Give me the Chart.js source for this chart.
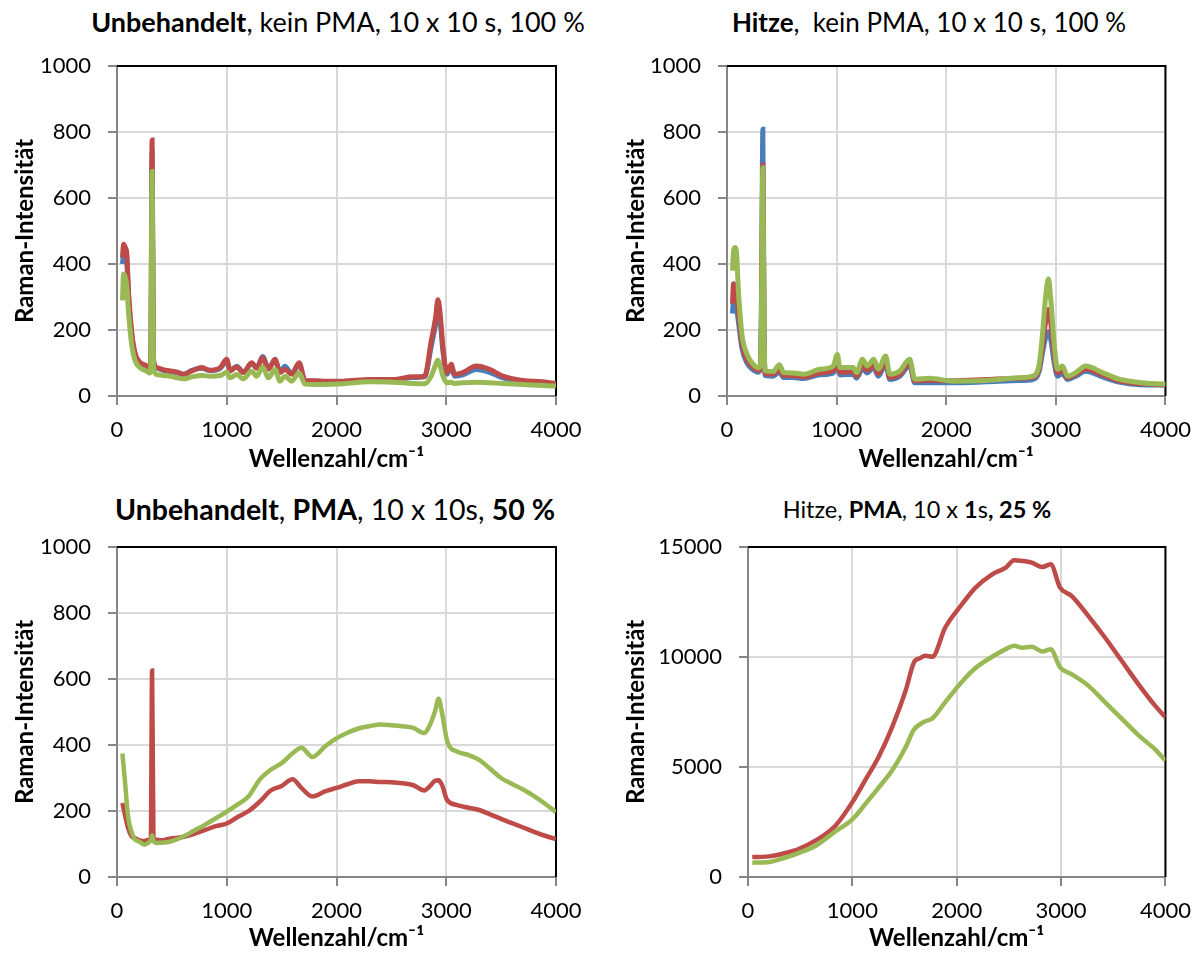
<!DOCTYPE html>
<html>
<head>
<meta charset="utf-8">
<script src="https://cdn.jsdelivr.net/npm/chart.js@4"></script>
<style>
  body { margin: 0; background: #fff; width: 1203px; height: 953px; overflow: hidden; position: relative; font-family: Lato, sans-serif; }
  canvas { position: absolute; }
  .ttl { position: absolute; line-height: 30px; white-space: pre; transform: translateX(-50%); color: #000; }
</style>
</head>
<body>
<div class="ttl" style="left:338px; top:7px; font-size:27px"><b>Unbehandelt</b>, kein PMA, 10 x 10 s, 100 %</div>
<div class="ttl" style="left:929px; top:7px; font-size:26px"><b>Hitze</b>,  kein PMA, 10 x 10 s, 100 %</div>
<div class="ttl" style="left:335px; top:494px; font-size:28.5px"><b>Unbehandelt</b>, <b>PMA</b>, 10 x 10s, <b>50 %</b></div>
<div class="ttl" style="left:917px; top:494px; font-size:23.5px">Hitze, <b>PMA</b>, 10 x <b>1</b>s<b>, 25 %</b></div>

<canvas id="c1" width="600" height="440" style="left:0; top:40px"></canvas>
<canvas id="c2" width="603" height="440" style="left:600px; top:40px"></canvas>
<canvas id="c3" width="600" height="433" style="left:0; top:520px"></canvas>
<canvas id="c4" width="603" height="433" style="left:600px; top:520px"></canvas>

<script>
// tick values
const xTicks = [0, 1000, 2000, 3000, 4000];
const yTicksSmall = [0, 200, 400, 600, 800, 1000];
const yTicksLarge = [0, 5000, 10000, 15000];

// Unbehandelt, kein PMA
const wn1 = [50, 60, 75, 90, 106, 136, 167, 212, 273, 297, 308, 320, 332, 364, 420, 485, 550, 606, 682, 773, 848, 940, 1000, 1030, 1091, 1151, 1227, 1273, 1327, 1379, 1440, 1485, 1530, 1591, 1660, 1712, 1800, 1879, 2060, 2303, 2515, 2697, 2803, 2863, 2903, 2924, 2945, 2970, 3006, 3045, 3076, 3151, 3272, 3394, 3515, 3697, 3879, 4000];
const blue1 = [400, 430, 420, 400, 300, 180, 122, 98, 88, 76, 105, 740, 105, 84, 78, 74, 70, 65, 78, 84, 77, 84, 105, 78, 90, 72, 98, 86, 120, 84, 108, 74, 90, 68, 96, 46, 45, 44, 44, 48, 48, 56, 58, 150, 215, 250, 225, 135, 66, 88, 60, 64, 80, 72, 55, 45, 40, 36];
const red1 = [420, 460, 450, 430, 309, 187, 127, 101, 91, 78, 110, 776, 110, 86, 80, 76, 72, 66, 76, 86, 78, 86, 111, 76, 88, 71, 101, 84, 116, 81, 111, 71, 81, 66, 101, 47, 46, 45, 45, 50, 50, 58, 60, 166, 238, 292, 248, 147, 71, 96, 66, 71, 91, 81, 60, 47, 43, 37];
const green1 = [290, 370, 360, 330, 250, 150, 105, 85, 75, 70, 90, 680, 90, 65, 62, 60, 55, 52, 58, 62, 60, 62, 72, 55, 65, 52, 75, 60, 88, 55, 80, 45, 60, 45, 70, 36, 35, 35, 37, 43, 42, 38, 37, 60, 95, 108, 90, 60, 40, 42, 38, 40, 42, 40, 38, 35, 32, 30];

// Hitze, kein PMA
const wn2 = [50, 60, 75, 85, 106, 136, 182, 227, 288, 305, 316, 327, 338, 348, 420, 479, 515, 600, 697, 848, 970, 1006, 1030, 1151, 1182, 1236, 1279, 1339, 1379, 1448, 1485, 1576, 1667, 1712, 1848, 2060, 2363, 2666, 2788, 2848, 2878, 2909, 2933, 2954, 2985, 3015, 3061, 3106, 3182, 3272, 3424, 3576, 3758, 4000];
const blue2 = [250, 290, 285, 270, 220, 145, 100, 82, 72, 85, 350, 808, 210, 62, 60, 72, 56, 56, 53, 64, 70, 90, 64, 66, 54, 82, 70, 86, 60, 95, 50, 60, 92, 40, 40, 40, 43, 47, 50, 75, 130, 180, 195, 170, 100, 60, 68, 50, 60, 75, 58, 42, 34, 33];
const red2 = [280, 340, 330, 310, 250, 160, 110, 90, 78, 85, 280, 700, 190, 68, 66, 80, 62, 62, 58, 70, 78, 100, 72, 74, 60, 92, 78, 95, 68, 105, 56, 66, 100, 46, 48, 46, 50, 54, 56, 85, 150, 230, 262, 220, 125, 70, 80, 55, 66, 82, 64, 46, 38, 34];
const green2 = [380, 440, 450, 440, 309, 187, 127, 101, 85, 95, 300, 692, 200, 76, 74, 95, 71, 70, 66, 81, 91, 126, 86, 86, 71, 111, 91, 111, 81, 121, 66, 76, 111, 51, 54, 45, 47, 55, 60, 96, 187, 309, 355, 290, 157, 81, 91, 60, 71, 91, 71, 51, 41, 36];

// Unbehandelt, PMA
const wn3 = [49, 70, 100, 130, 160, 200, 250, 290, 308, 320, 332, 360, 400, 480, 600, 700, 800, 900, 1000, 1100, 1200, 1300, 1400, 1500, 1600, 1680, 1780, 1900, 2000, 2100, 2200, 2300, 2400, 2500, 2600, 2700, 2800, 2850, 2900, 2930, 2960, 3010, 3100, 3200, 3300, 3400, 3500, 3600, 3700, 3800, 3900, 4000];
const red3 = [224, 192, 150, 125, 118, 112, 109, 113, 118, 626, 118, 113, 111, 116, 121, 130, 142, 154, 162, 182, 200, 228, 262, 276, 296, 270, 244, 260, 270, 281, 290, 290, 288, 287, 284, 278, 262, 275, 292, 293, 280, 232, 218, 210, 203, 190, 176, 163, 150, 137, 125, 115];
const green3 = [374, 300, 185, 140, 115, 108, 98, 105, 112, 126, 110, 103, 104, 107, 122, 140, 158, 178, 198, 220, 245, 295, 325, 345, 375, 392, 364, 397, 420, 437, 450, 457, 462, 460, 457, 452, 436, 460, 505, 540, 500, 410, 380, 370, 355, 328, 300, 282, 265, 245, 222, 197];

// Hitze, PMA
const wn4 = [41, 200, 330, 490, 650, 840, 1000, 1130, 1250, 1380, 1510, 1590, 1650, 1700, 1765, 1890, 2050, 2180, 2340, 2470, 2550, 2630, 2720, 2820, 2900, 2990, 3100, 3260, 3420, 3580, 3740, 3900, 4000];
const red4 = [907, 937, 1058, 1285, 1663, 2344, 3402, 4460, 5443, 6804, 8467, 9752, 9950, 10055, 10010, 11340, 12398, 13154, 13759, 14062, 14394, 14364, 14288, 14092, 14213, 13154, 12777, 11869, 10886, 9828, 8770, 7787, 7258];
const green4 = [650, 680, 840, 1100, 1420, 2080, 2620, 3350, 4050, 4838, 5897, 6700, 6950, 7080, 7200, 7950, 8880, 9500, 10010, 10357, 10508, 10420, 10463, 10251, 10357, 9526, 9223, 8700, 7950, 7200, 6450, 5800, 5292];

const BLUE = '#4a7ebb', RED = '#be4b48', GREEN = '#98b954';

Chart.defaults.font.family = 'Lato';
Chart.defaults.font.size = 22;
Chart.defaults.color = '#000';

const frame = {
  id: 'frame',
  beforeDatasetsDraw(chart) {
    const { ctx, chartArea: a } = chart;
    ctx.save();
    ctx.strokeStyle = '#000';
    ctx.lineWidth = 2;
    ctx.beginPath();
    ctx.moveTo(a.left, a.top);
    ctx.lineTo(a.right, a.top);
    ctx.lineTo(a.right, a.bottom);
    ctx.stroke();
    ctx.restore();
  }
};

function pts(xs, ys) {
  return xs.map((x, i) => ({ x: x, y: ys[i] }));
}

function line(xs, ys, color, order, w) {
  return { data: pts(xs, ys), borderColor: color, backgroundColor: color, borderWidth: w, pointRadius: 0, cubicInterpolationMode: 'monotone', order: order };
}

function makeChart(id, datasets, yTicks, opt) {
  return new Chart(document.getElementById(id), {
    type: 'line',
    data: { datasets: datasets },
    plugins: [frame],
    options: {
      responsive: false,
      animation: false,
      devicePixelRatio: 1,
      layout: { padding: { top: opt.top, right: opt.right, bottom: opt.bottom, left: 0 } },
      plugins: { legend: { display: false }, tooltip: { enabled: false } },
      scales: {
        x: {
          type: 'linear', min: 0, max: 4000,
          afterBuildTicks: s => { s.ticks = xTicks.map(v => ({ value: v })); },
          afterFit: s => { s.height = opt.xh; },
          ticks: { padding: 12, maxRotation: 0, callback: v => String(v) },
          grid: { color: '#d9d9d9', lineWidth: 2, tickColor: '#868686', tickLength: 9, tickWidth: 2 },
          border: { color: '#868686', width: 2 },
          title: { display: true, text: 'Wellenzahl/cm⁻¹', font: { weight: 'bold', size: 24 }, padding: { top: 0, bottom: 0 } }
        },
        y: {
          type: 'linear', min: 0, max: yTicks[yTicks.length - 1],
          afterBuildTicks: s => { s.ticks = yTicks.map(v => ({ value: v })); },
          afterFit: s => { s.width = opt.yw; s.paddingTop = 0; s.paddingBottom = 0; },
          ticks: { padding: 17, callback: v => String(v) },
          grid: { color: '#d9d9d9', lineWidth: 2, tickColor: '#868686', tickLength: 9, tickWidth: 2 },
          border: { color: '#868686', width: 2 },
          title: { display: true, text: 'Raman-Intensität', font: { weight: 'bold', size: 24 }, padding: { top: opt.yt, bottom: 0 } }
        }
      }
    }
  });
}

makeChart('c1', [line(wn1, blue1, BLUE, 3, 5), line(wn1, red1, RED, 2, 5), line(wn1, green1, GREEN, 1, 5)],
  yTicksSmall, { top: 26, right: 44, bottom: 6, xh: 78, yw: 117, yt: 11 });
makeChart('c2', [line(wn2, blue2, BLUE, 3, 5), line(wn2, red2, RED, 2, 5), line(wn2, green2, GREEN, 1, 5)],
  yTicksSmall, { top: 26, right: 37, bottom: 6, xh: 78, yw: 127, yt: 22 });
makeChart('c3', [line(wn3, red3, RED, 2, 4.5), line(wn3, green3, GREEN, 1, 4.5)],
  yTicksSmall, { top: 27, right: 44, bottom: 0, xh: 76, yw: 117, yt: 11 });
makeChart('c4', [line(wn4, red4, RED, 2, 4.5), line(wn4, green4, GREEN, 1, 4.5)],
  yTicksLarge, { top: 27, right: 37, bottom: 0, xh: 76, yw: 148, yt: 22 });
</script>
</body>
</html>
